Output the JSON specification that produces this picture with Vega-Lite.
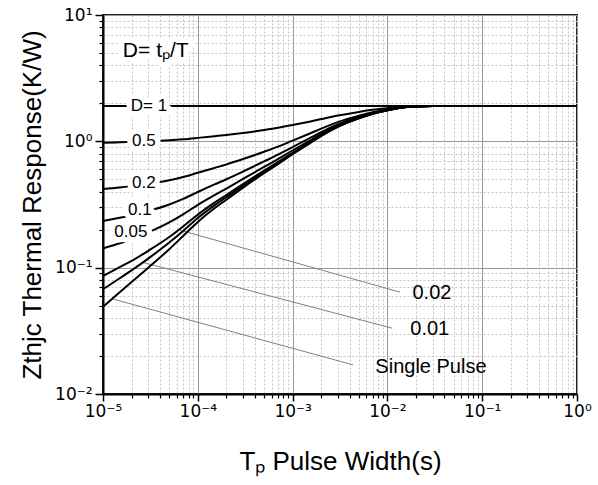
{
  "$schema": "https://vega.github.io/schema/vega-lite/v6.json",
  "autosize": {"type": "none"},
  "padding": {"left": 103, "top": 15, "right": 21, "bottom": 91},
  "width": 474,
  "height": 379,
  "background": "white",
  "config": {
    "view": {"stroke": "#222", "strokeWidth": 2},
    "axis": {"labelColor": "black", "titleColor": "black"}
  },
  "datasets": {
    "curves": [
      {"D": "1", "t": 1e-5, "z": 1.9}, {"D": "1", "t": 1, "z": 1.9},
      {"D": "0.5", "t": 1e-5, "z": 0.9745}, {"D": "0.5", "t": 1.5e-5, "z": 0.982}, {"D": "0.5", "t": 2e-5, "z": 0.9885}, {"D": "0.5", "t": 3e-5, "z": 1.0}, {"D": "0.5", "t": 5e-5, "z": 1.02}, {"D": "0.5", "t": 7e-5, "z": 1.039}, {"D": "0.5", "t": 1e-4, "z": 1.065}, {"D": "0.5", "t": 1.5e-4, "z": 1.0975}, {"D": "0.5", "t": 2e-4, "z": 1.1225}, {"D": "0.5", "t": 3e-4, "z": 1.165}, {"D": "0.5", "t": 5e-4, "z": 1.23}, {"D": "0.5", "t": 7e-4, "z": 1.28}, {"D": "0.5", "t": 1e-3, "z": 1.345}, {"D": "0.5", "t": 1.5e-3, "z": 1.43}, {"D": "0.5", "t": 2e-3, "z": 1.5}, {"D": "0.5", "t": 3e-3, "z": 1.6}, {"D": "0.5", "t": 5e-3, "z": 1.71}, {"D": "0.5", "t": 7e-3, "z": 1.775}, {"D": "0.5", "t": 1e-2, "z": 1.83}, {"D": "0.5", "t": 1.5e-2, "z": 1.88}, {"D": "0.5", "t": 2e-2, "z": 1.895}, {"D": "0.5", "t": 3e-2, "z": 1.9}, {"D": "0.5", "t": 5e-2, "z": 1.9}, {"D": "0.5", "t": 0.1, "z": 1.9}, {"D": "0.5", "t": 1, "z": 1.9},
      {"D": "0.2", "t": 1e-5, "z": 0.419}, {"D": "0.2", "t": 1.5e-5, "z": 0.431}, {"D": "0.2", "t": 2e-5, "z": 0.442}, {"D": "0.2", "t": 3e-5, "z": 0.46}, {"D": "0.2", "t": 5e-5, "z": 0.492}, {"D": "0.2", "t": 7e-5, "z": 0.522}, {"D": "0.2", "t": 1e-4, "z": 0.564}, {"D": "0.2", "t": 1.5e-4, "z": 0.616}, {"D": "0.2", "t": 2e-4, "z": 0.656}, {"D": "0.2", "t": 3e-4, "z": 0.724}, {"D": "0.2", "t": 5e-4, "z": 0.828}, {"D": "0.2", "t": 7e-4, "z": 0.908}, {"D": "0.2", "t": 1e-3, "z": 1.012}, {"D": "0.2", "t": 1.5e-3, "z": 1.148}, {"D": "0.2", "t": 2e-3, "z": 1.26}, {"D": "0.2", "t": 3e-3, "z": 1.42}, {"D": "0.2", "t": 5e-3, "z": 1.596}, {"D": "0.2", "t": 7e-3, "z": 1.7}, {"D": "0.2", "t": 1e-2, "z": 1.788}, {"D": "0.2", "t": 1.5e-2, "z": 1.868}, {"D": "0.2", "t": 2e-2, "z": 1.892}, {"D": "0.2", "t": 3e-2, "z": 1.9}, {"D": "0.2", "t": 5e-2, "z": 1.9}, {"D": "0.2", "t": 0.1, "z": 1.9}, {"D": "0.2", "t": 1, "z": 1.9},
      {"D": "0.1", "t": 1e-5, "z": 0.234}, {"D": "0.1", "t": 1.5e-5, "z": 0.248}, {"D": "0.1", "t": 2e-5, "z": 0.259}, {"D": "0.1", "t": 3e-5, "z": 0.28}, {"D": "0.1", "t": 5e-5, "z": 0.316}, {"D": "0.1", "t": 7e-5, "z": 0.35}, {"D": "0.1", "t": 1e-4, "z": 0.397}, {"D": "0.1", "t": 1.5e-4, "z": 0.456}, {"D": "0.1", "t": 2e-4, "z": 0.501}, {"D": "0.1", "t": 3e-4, "z": 0.577}, {"D": "0.1", "t": 5e-4, "z": 0.694}, {"D": "0.1", "t": 7e-4, "z": 0.784}, {"D": "0.1", "t": 1e-3, "z": 0.901}, {"D": "0.1", "t": 1.5e-3, "z": 1.054}, {"D": "0.1", "t": 2e-3, "z": 1.18}, {"D": "0.1", "t": 3e-3, "z": 1.36}, {"D": "0.1", "t": 5e-3, "z": 1.558}, {"D": "0.1", "t": 7e-3, "z": 1.675}, {"D": "0.1", "t": 1e-2, "z": 1.774}, {"D": "0.1", "t": 1.5e-2, "z": 1.864}, {"D": "0.1", "t": 2e-2, "z": 1.891}, {"D": "0.1", "t": 3e-2, "z": 1.9}, {"D": "0.1", "t": 5e-2, "z": 1.9}, {"D": "0.1", "t": 0.1, "z": 1.9}, {"D": "0.1", "t": 1, "z": 1.9},
      {"D": "0.05", "t": 1e-5, "z": 0.142}, {"D": "0.05", "t": 1.5e-5, "z": 0.156}, {"D": "0.05", "t": 2e-5, "z": 0.168}, {"D": "0.05", "t": 3e-5, "z": 0.19}, {"D": "0.05", "t": 5e-5, "z": 0.228}, {"D": "0.05", "t": 7e-5, "z": 0.264}, {"D": "0.05", "t": 1e-4, "z": 0.314}, {"D": "0.05", "t": 1.5e-4, "z": 0.375}, {"D": "0.05", "t": 2e-4, "z": 0.423}, {"D": "0.05", "t": 3e-4, "z": 0.504}, {"D": "0.05", "t": 5e-4, "z": 0.627}, {"D": "0.05", "t": 7e-4, "z": 0.722}, {"D": "0.05", "t": 1e-3, "z": 0.846}, {"D": "0.05", "t": 1.5e-3, "z": 1.007}, {"D": "0.05", "t": 2e-3, "z": 1.14}, {"D": "0.05", "t": 3e-3, "z": 1.33}, {"D": "0.05", "t": 5e-3, "z": 1.539}, {"D": "0.05", "t": 7e-3, "z": 1.663}, {"D": "0.05", "t": 1e-2, "z": 1.767}, {"D": "0.05", "t": 1.5e-2, "z": 1.862}, {"D": "0.05", "t": 2e-2, "z": 1.891}, {"D": "0.05", "t": 3e-2, "z": 1.9}, {"D": "0.05", "t": 5e-2, "z": 1.9}, {"D": "0.05", "t": 0.1, "z": 1.9}, {"D": "0.05", "t": 1, "z": 1.9},
      {"D": "0.02", "t": 1e-5, "z": 0.086}, {"D": "0.02", "t": 1.5e-5, "z": 0.101}, {"D": "0.02", "t": 2e-5, "z": 0.113}, {"D": "0.02", "t": 3e-5, "z": 0.136}, {"D": "0.02", "t": 5e-5, "z": 0.175}, {"D": "0.02", "t": 7e-5, "z": 0.212}, {"D": "0.02", "t": 1e-4, "z": 0.263}, {"D": "0.02", "t": 1.5e-4, "z": 0.327}, {"D": "0.02", "t": 2e-4, "z": 0.376}, {"D": "0.02", "t": 3e-4, "z": 0.459}, {"D": "0.02", "t": 5e-4, "z": 0.587}, {"D": "0.02", "t": 7e-4, "z": 0.685}, {"D": "0.02", "t": 1e-3, "z": 0.812}, {"D": "0.02", "t": 1.5e-3, "z": 0.979}, {"D": "0.02", "t": 2e-3, "z": 1.116}, {"D": "0.02", "t": 3e-3, "z": 1.312}, {"D": "0.02", "t": 5e-3, "z": 1.528}, {"D": "0.02", "t": 7e-3, "z": 1.655}, {"D": "0.02", "t": 1e-2, "z": 1.763}, {"D": "0.02", "t": 1.5e-2, "z": 1.861}, {"D": "0.02", "t": 2e-2, "z": 1.89}, {"D": "0.02", "t": 3e-2, "z": 1.9}, {"D": "0.02", "t": 5e-2, "z": 1.9}, {"D": "0.02", "t": 0.1, "z": 1.9}, {"D": "0.02", "t": 1, "z": 1.9},
      {"D": "0.01", "t": 1e-5, "z": 0.0675}, {"D": "0.01", "t": 1.5e-5, "z": 0.0824}, {"D": "0.01", "t": 2e-5, "z": 0.0952}, {"D": "0.01", "t": 3e-5, "z": 0.118}, {"D": "0.01", "t": 5e-5, "z": 0.158}, {"D": "0.01", "t": 7e-5, "z": 0.195}, {"D": "0.01", "t": 1e-4, "z": 0.247}, {"D": "0.01", "t": 1.5e-4, "z": 0.311}, {"D": "0.01", "t": 2e-4, "z": 0.361}, {"D": "0.01", "t": 3e-4, "z": 0.445}, {"D": "0.01", "t": 5e-4, "z": 0.573}, {"D": "0.01", "t": 7e-4, "z": 0.672}, {"D": "0.01", "t": 1e-3, "z": 0.801}, {"D": "0.01", "t": 1.5e-3, "z": 0.969}, {"D": "0.01", "t": 2e-3, "z": 1.108}, {"D": "0.01", "t": 3e-3, "z": 1.306}, {"D": "0.01", "t": 5e-3, "z": 1.524}, {"D": "0.01", "t": 7e-3, "z": 1.653}, {"D": "0.01", "t": 1e-2, "z": 1.761}, {"D": "0.01", "t": 1.5e-2, "z": 1.86}, {"D": "0.01", "t": 2e-2, "z": 1.89}, {"D": "0.01", "t": 3e-2, "z": 1.9}, {"D": "0.01", "t": 5e-2, "z": 1.9}, {"D": "0.01", "t": 0.1, "z": 1.9}, {"D": "0.01", "t": 1, "z": 1.9},
      {"D": "single", "t": 1e-5, "z": 0.049}, {"D": "single", "t": 1.5e-5, "z": 0.064}, {"D": "single", "t": 2e-5, "z": 0.077}, {"D": "single", "t": 3e-5, "z": 0.1}, {"D": "single", "t": 5e-5, "z": 0.14}, {"D": "single", "t": 7e-5, "z": 0.178}, {"D": "single", "t": 1e-4, "z": 0.23}, {"D": "single", "t": 1.5e-4, "z": 0.295}, {"D": "single", "t": 2e-4, "z": 0.345}, {"D": "single", "t": 3e-4, "z": 0.43}, {"D": "single", "t": 5e-4, "z": 0.56}, {"D": "single", "t": 7e-4, "z": 0.66}, {"D": "single", "t": 1e-3, "z": 0.79}, {"D": "single", "t": 1.5e-3, "z": 0.96}, {"D": "single", "t": 2e-3, "z": 1.1}, {"D": "single", "t": 3e-3, "z": 1.3}, {"D": "single", "t": 5e-3, "z": 1.52}, {"D": "single", "t": 7e-3, "z": 1.65}, {"D": "single", "t": 1e-2, "z": 1.76}, {"D": "single", "t": 1.5e-2, "z": 1.86}, {"D": "single", "t": 2e-2, "z": 1.89}, {"D": "single", "t": 3e-2, "z": 1.9}, {"D": "single", "t": 5e-2, "z": 1.9}, {"D": "single", "t": 0.1, "z": 1.9}, {"D": "single", "t": 1, "z": 1.9}
    ],
    "leaders": [
      {"id": "0.02", "t": 6.5e-5, "z": 0.198}, {"id": "0.02", "t": 0.0136, "z": 0.064},
      {"id": "0.01", "t": 2.64e-5, "z": 0.11}, {"id": "0.01", "t": 0.0112, "z": 0.0332},
      {"id": "single", "t": 1.28e-5, "z": 0.0564}, {"id": "single", "t": 0.00434, "z": 0.017}
    ],
    "curveLabels": [
      {"t": 3.05e-5, "z": 1.9, "text": "D= 1"},
      {"t": 2.7e-5, "z": 1.0, "text": "0.5"},
      {"t": 2.7e-5, "z": 0.47, "text": "0.2"},
      {"t": 2.45e-5, "z": 0.285, "text": "0.1"},
      {"t": 1.97e-5, "z": 0.19, "text": "0.05"}
    ],
    "heading": [
      {"t": 3.6e-5, "z": 5.2, "text": "D= tₚ/T"}
    ],
    "notes": [
      {"t": 0.0295, "z": 0.063, "text": "0.02"},
      {"t": 0.028, "z": 0.0327, "text": "0.01"},
      {"t": 0.0288, "z": 0.0163, "text": "Single Pulse"}
    ]
  },
  "layer": [
    {
      "data": {"name": "leaders"},
      "mark": {"type": "line", "color": "#808080", "strokeWidth": 1},
      "encoding": {
        "x": {"field": "t", "type": "quantitative", "scale": {"type": "log", "domain": [1e-5, 1], "nice": false},
          "axis": {"orient": "bottom", "values": [2e-5,3e-5,4e-5,5e-5,6e-5,7e-5,8e-5,9e-5,2e-4,3e-4,4e-4,5e-4,6e-4,7e-4,8e-4,9e-4,2e-3,3e-3,4e-3,5e-3,6e-3,7e-3,8e-3,9e-3,2e-2,3e-2,4e-2,5e-2,6e-2,7e-2,8e-2,9e-2,0.2,0.3,0.4,0.5,0.6,0.7,0.8,0.9],
            "labels": false, "domain": false, "grid": true, "gridColor": "#c4c4c4", "gridDash": [2, 2], "gridWidth": 1, "tickSize": 4, "tickColor": "black", "tickWidth": 1.2, "title": null}},
        "y": {"field": "z", "type": "quantitative", "scale": {"type": "log", "domain": [0.01, 10], "nice": false},
          "axis": {"orient": "left", "values": [0.02,0.03,0.04,0.05,0.06,0.07,0.08,0.09,0.2,0.3,0.4,0.5,0.6,0.7,0.8,0.9,2,3,4,5,6,7,8,9],
            "labels": false, "domain": false, "grid": true, "gridColor": "#c4c4c4", "gridDash": [2, 2], "gridWidth": 1, "tickSize": 4, "tickColor": "black", "tickWidth": 1.2, "title": null}},
        "detail": {"field": "id"}
      }
    },
    {
      "data": {"name": "curves"},
      "mark": {"type": "line", "color": "black", "strokeWidth": 2, "interpolate": "monotone"},
      "encoding": {
        "x": {"field": "t", "type": "quantitative", "scale": {"type": "log", "domain": [1e-5, 1], "nice": false},
          "axis": {"orient": "bottom", "values": [1e-5, 1e-4, 1e-3, 1e-2, 0.1, 1],
            "labelExpr": "datum.value < 2e-5 ? '10⁻⁵' : datum.value < 2e-4 ? '10⁻⁴' : datum.value < 2e-3 ? '10⁻³' : datum.value < 2e-2 ? '10⁻²' : datum.value < 0.2 ? '10⁻¹' : '10⁰'",
            "labelFont": "DejaVu Sans", "labelFontSize": 17, "labelPadding": 2, "labelFlush": false,
            "domain": true, "domainColor": "black", "domainWidth": 2,
            "grid": true, "gridColor": "#999999", "gridWidth": 1,
            "tickSize": 7, "tickColor": "black", "tickWidth": 1.5,
            "title": "Tₚ Pulse Width(s)", "titleFont": "Liberation Sans", "titleFontSize": 26, "titleFontWeight": "normal",
            "titleBaseline": "alphabetic", "titleY": 75}},
        "y": {"field": "z", "type": "quantitative", "scale": {"type": "log", "domain": [0.01, 10], "nice": false},
          "axis": {"orient": "left", "values": [0.01, 0.1, 1, 10],
            "labelExpr": "datum.value < 0.02 ? '10⁻²' : datum.value < 0.2 ? '10⁻¹' : datum.value < 2 ? '10⁰' : '10¹'",
            "labelFont": "DejaVu Sans", "labelFontSize": 17, "labelPadding": 3, "labelFlush": false,
            "domain": true, "domainColor": "black", "domainWidth": 2,
            "grid": true, "gridColor": "#999999", "gridWidth": 1,
            "tickSize": 8, "tickColor": "black", "tickWidth": 1.5,
            "title": "Zthjc Thermal Response(K/W)", "titleFont": "Liberation Sans", "titleFontSize": 26, "titleFontWeight": "normal",
            "titleBaseline": "alphabetic", "titleX": -63}},
        "detail": {"field": "D"}
      }
    },
    {
      "data": {"name": "curveLabels"},
      "mark": {"type": "text", "font": "Liberation Sans", "fontSize": 17, "align": "center", "baseline": "middle", "fill": "white", "stroke": "white", "strokeWidth": 11, "strokeJoin": "round"},
      "encoding": {
        "x": {"field": "t", "type": "quantitative", "axis": null},
        "y": {"field": "z", "type": "quantitative", "axis": null},
        "text": {"field": "text"}
      }
    },
    {
      "data": {"name": "curveLabels"},
      "mark": {"type": "text", "font": "Liberation Sans", "fontSize": 17, "align": "center", "baseline": "middle", "color": "black"},
      "encoding": {
        "x": {"field": "t", "type": "quantitative", "axis": null},
        "y": {"field": "z", "type": "quantitative", "axis": null},
        "text": {"field": "text"}
      }
    },
    {
      "data": {"name": "heading"},
      "mark": {"type": "text", "font": "Liberation Sans", "fontSize": 21, "align": "center", "baseline": "middle", "fill": "white", "stroke": "white", "strokeWidth": 12, "strokeJoin": "round"},
      "encoding": {
        "x": {"field": "t", "type": "quantitative", "axis": null},
        "y": {"field": "z", "type": "quantitative", "axis": null},
        "text": {"field": "text"}
      }
    },
    {
      "data": {"name": "heading"},
      "mark": {"type": "text", "font": "Liberation Sans", "fontSize": 21, "align": "center", "baseline": "middle", "color": "black"},
      "encoding": {
        "x": {"field": "t", "type": "quantitative", "axis": null},
        "y": {"field": "z", "type": "quantitative", "axis": null},
        "text": {"field": "text"}
      }
    },
    {
      "data": {"name": "notes"},
      "mark": {"type": "text", "font": "Liberation Sans", "fontSize": 20, "align": "center", "baseline": "middle", "color": "black"},
      "encoding": {
        "x": {"field": "t", "type": "quantitative", "axis": null},
        "y": {"field": "z", "type": "quantitative", "axis": null},
        "text": {"field": "text"}
      }
    }
  ],
  "resolve": {"axis": {"x": "independent", "y": "independent"}}
}
